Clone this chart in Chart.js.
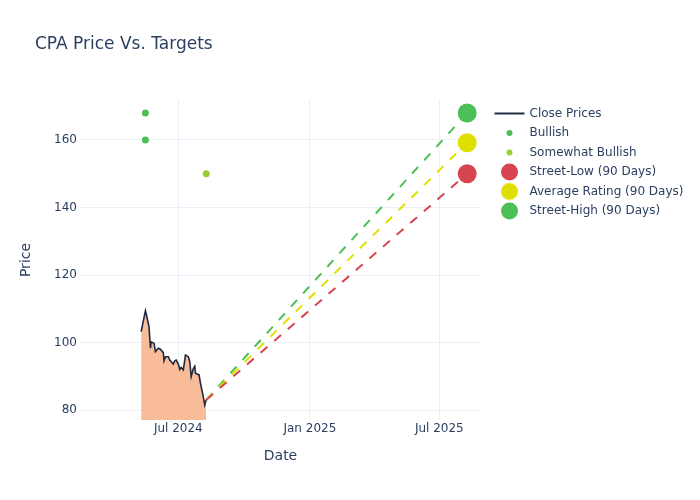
<!DOCTYPE html>
<html>
<head>
<meta charset="utf-8">
<script src="https://cdn.jsdelivr.net/npm/chart.js@4.4.1/dist/chart.umd.min.js"></script>
<style>
body { margin: 0; background: #fff; }
</style>
</head>
<body>
<canvas id="chart" width="700" height="500"></canvas>
<script>
// data
const closeDates = ["2024-05-10", "2024-05-16", "2024-05-17", "2024-05-21", "2024-05-23", "2024-05-24",
    "2024-05-28", "2024-05-30", "2024-06-03", "2024-06-06", "2024-06-10", "2024-06-11", "2024-06-13",
    "2024-06-17", "2024-06-19", "2024-06-24", "2024-06-26", "2024-06-28", "2024-07-01", "2024-07-03",
    "2024-07-05", "2024-07-08", "2024-07-11", "2024-07-15", "2024-07-17", "2024-07-19", "2024-07-22",
    "2024-07-24", "2024-07-25", "2024-07-30", "2024-08-01", "2024-08-05", "2024-08-07", "2024-08-09"];
const closePrices = [103.2, 109.4, 108.6, 104.7, 98.3, 100.2, 99.8, 97.3, 98.3, 98.0, 97.0, 94.6, 95.8,
    95.8, 94.8, 93.6, 94.6, 94.8, 93.6, 92.0, 92.6, 91.9, 96.3, 95.8, 94.3, 89.9, 92.3,
    93.0, 90.9, 90.4, 87.9, 83.8, 81.5, 83.0];
const bullishDates = ["2024-05-16", "2024-05-16"];
const bullishTargets = [168, 160];
const somewhatDates = ["2024-08-09"];
const somewhatTargets = [150];
const targetDates = ["2024-08-09", "2025-08-09"];
const streetLow = 150;
const averageRating = 159.2;
const streetHigh = 168;
const yTicks = [80, 100, 120, 140, 160];
const xTickDates = ["2024-07-01", "2025-01-01", "2025-07-01"];
const xTickLabels = ["Jul 2024", "Jan 2025", "Jul 2025"];

const ink = "#2a3f5f";
const family = "'DejaVu Sans', sans-serif";
const gridColor = "#ebf0f8";

const dayOf = (s) => (Date.parse(s) - Date.parse("2024-01-01")) / 86400000;
const pts = (dates, vals) => dates.map((d, i) => ({x: dayOf(d), y: vals[i]}));
const lastClose = closePrices[closePrices.length - 1];
const targetLine = (value) => [
    {x: dayOf(targetDates[0]), y: lastClose},
    {x: dayOf(targetDates[1]), y: value}
];

// legend icons, drawn on small canvases so each entry can have its own size
const makeIcon = (kind, color) => {
    let c = document.createElement("canvas");
    c.width = 44;
    c.height = 20;
    let g = c.getContext("2d");
    if (kind === "line") {
        g.strokeStyle = color;
        g.lineWidth = 2;
        g.beginPath();
        g.moveTo(10.5, 10);
        g.lineTo(40.5, 10);
        g.stroke();
    } else {
        g.fillStyle = color;
        g.beginPath();
        g.arc(25.5, 10, kind === "big" ? 8.5 : 3, 0, Math.PI * 2);
        g.fill();
    }
    return c;
};

const colors = {
    close: "#1f2940",
    fill: "rgba(248, 184, 148, 0.95)",
    bullish: "#4cbf56",
    somewhat: "#9acd32",
    low: "#d6454f",
    avg: "#e0e000",
    high: "#4cbf56"
};

const icons = [
    makeIcon("line", colors.close),
    makeIcon("small", colors.bullish),
    makeIcon("small", colors.somewhat),
    makeIcon("big", colors.low),
    makeIcon("big", colors.avg),
    makeIcon("big", colors.high)
];

const labels = ["Close Prices", "Bullish", "Somewhat Bullish", "Street-Low (90 Days)",
    "Average Rating (90 Days)", "Street-High (90 Days)"];

// size the right padding so the plot ends at x=481
let meas = document.createElement("canvas").getContext("2d");
meas.font = "12px " + family;
let textW = Math.max(...labels.map((t) => meas.measureText(t).width));
let padRight = Math.max(0, 700 - 481 - (7.5 + 35 + 6 + textW + 10));

const titlePlugin = {
    id: "plotTitle",
    afterDraw(chart) {
        let c = chart.ctx;
        c.save();
        c.font = "17px " + family;
        c.fillStyle = ink;
        c.textBaseline = "middle";
        c.fillText("CPA Price Vs. Targets", 35, 45);
        c.restore();
    }
};

const dashed = (label, value, color) => ({
    label: label,
    data: targetLine(value),
    borderColor: color,
    borderWidth: 2,
    borderDash: [9, 9],
    pointRadius: [0, 9.5],
    pointHoverRadius: [0, 9.5],
    pointBackgroundColor: color,
    pointBorderWidth: 0,
    fill: false,
    clip: false
});

new Chart(document.getElementById("chart"), {
    type: "line",
    data: {
        datasets: [
            {
                label: labels[0],
                data: pts(closeDates, closePrices),
                borderColor: colors.close,
                borderWidth: 1.6,
                backgroundColor: colors.fill,
                fill: "start",
                pointRadius: 0,
                tension: 0,
                order: 5
            },
            {
                label: labels[1],
                data: pts(bullishDates, bullishTargets),
                showLine: false,
                pointRadius: 3.5,
                pointBackgroundColor: colors.bullish,
                pointBorderWidth: 0
            },
            {
                label: labels[2],
                data: pts(somewhatDates, somewhatTargets),
                showLine: false,
                pointRadius: 3.5,
                pointBackgroundColor: colors.somewhat,
                pointBorderWidth: 0
            },
            dashed(labels[3], streetLow, colors.low),
            dashed(labels[4], averageRating, colors.avg),
            dashed(labels[5], streetHigh, colors.high)
        ]
    },
    options: {
        responsive: false,
        animation: false,
        devicePixelRatio: 1,
        layout: {padding: {top: 100, left: 0, bottom: 0, right: padRight}},
        plugins: {
            title: {display: false},
            tooltip: {enabled: false},
            legend: {
                position: "right",
                align: "start",
                maxWidth: 320,
                labels: {
                    usePointStyle: true,
                    pointStyleWidth: 35,
                    padding: 7.5,
                    color: ink,
                    font: {family: family, size: 12},
                    generateLabels: (chart) => chart.data.datasets.map((ds, i) => ({
                        text: ds.label,
                        pointStyle: icons[i],
                        datasetIndex: i,
                        hidden: false,
                        lineWidth: 0,
                        fillStyle: "transparent",
                        strokeStyle: "transparent",
                        fontColor: ink
                    }))
                }
            }
        },
        scales: {
            x: {
                type: "linear",
                min: 44.5,
                max: 605.3,
                afterBuildTicks: (s) => {
                    s.ticks = xTickDates.map((d) => ({value: dayOf(d)}));
                },
                afterFit: (s) => {
                    s.height = 80;
                },
                ticks: {
                    callback: (v, i) => xTickLabels[i],
                    color: ink,
                    font: {family: family, size: 12},
                    padding: 2,
                    maxRotation: 0,
                    autoSkip: false
                },
                grid: {color: gridColor, drawTicks: false},
                border: {display: false},
                title: {
                    display: true,
                    text: "Date",
                    color: ink,
                    font: {family: family, size: 14},
                    padding: {top: 0, bottom: 35.6}
                }
            },
            y: {
                type: "linear",
                min: 77.04,
                max: 171.85,
                afterBuildTicks: (s) => {
                    s.ticks = yTicks.map((v) => ({value: v}));
                },
                afterFit: (s) => {
                    s.width = 80;
                },
                ticks: {
                    color: ink,
                    font: {family: family, size: 12},
                    padding: 3
                },
                grid: {color: gridColor, drawTicks: false},
                border: {display: false},
                title: {
                    display: true,
                    text: "Price",
                    color: ink,
                    font: {family: family, size: 14},
                    padding: {top: 17.6, bottom: 0}
                }
            }
        }
    },
    plugins: [titlePlugin]
});
</script>
</body>
</html>
